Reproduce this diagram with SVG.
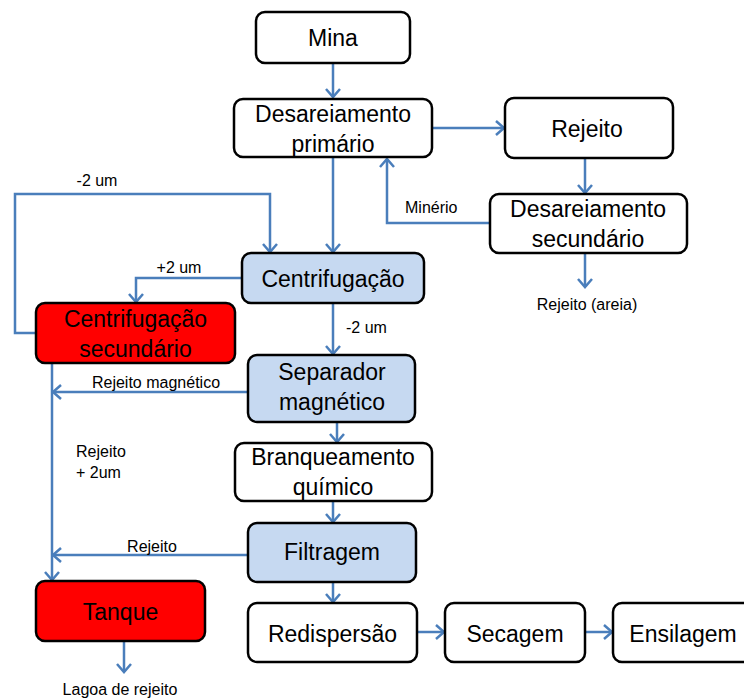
<svg xmlns="http://www.w3.org/2000/svg" width="744" height="700" viewBox="0 0 744 700">
<defs>
<style>
.box{fill:#fff;stroke:#000;stroke-width:2.5}
.blue{fill:#c6d9f1}
.red{fill:#ff0000}
.t{font-family:"Liberation Sans",Arial,sans-serif;font-size:23px;fill:#000;text-anchor:middle}
.l{font-family:"Liberation Sans",Arial,sans-serif;font-size:16px;fill:#000}
.c{fill:none;stroke:#4a7ebb;stroke-width:2.5}
</style>
<marker id="ah" markerUnits="userSpaceOnUse" markerWidth="20" markerHeight="20" viewBox="-10 -10 20 20" refX="0" refY="0" orient="auto">
<polyline points="-8,-7 0,0 -8,7" fill="none" stroke="#4a7ebb" stroke-width="2.5"/>
</marker>
</defs>
<rect width="744" height="700" fill="#fff"/>
<g id="connectors">
<path class="c" d="M333,63 V97" marker-end="url(#ah)"/>
<path class="c" d="M432,128 H504" marker-end="url(#ah)"/>
<path class="c" d="M585,158 V193" marker-end="url(#ah)"/>
<path class="c" d="M490,223 H387 V159" marker-end="url(#ah)"/>
<path class="c" d="M585,253 V287" marker-end="url(#ah)"/>
<path class="c" d="M333,157 V252" marker-end="url(#ah)"/>
<path class="c" d="M36,333 H15 V194 H270 V252" marker-end="url(#ah)"/>
<path class="c" d="M242,278 H136 V302" marker-end="url(#ah)"/>
<path class="c" d="M333,303 V354" marker-end="url(#ah)"/>
<path class="c" d="M52,363 V580" marker-end="url(#ah)"/>
<path class="c" d="M248,392 H53" marker-end="url(#ah)"/>
<path class="c" d="M248,555 H53" marker-end="url(#ah)"/>
<path class="c" d="M337,422 V442" marker-end="url(#ah)"/>
<path class="c" d="M333,501 V522" marker-end="url(#ah)"/>
<path class="c" d="M333,582 V602" marker-end="url(#ah)"/>
<path class="c" d="M417,632 H444" marker-end="url(#ah)"/>
<path class="c" d="M585,632 H612" marker-end="url(#ah)"/>
<path class="c" d="M124,641 V672" marker-end="url(#ah)"/>
<text class="l" x="97" y="186" text-anchor="middle">-2 um</text>
<text class="l" x="179" y="273" text-anchor="middle">+2 um</text>
<text class="l" x="346" y="333">-2 um</text>
<text class="l" x="405" y="213">Minério</text>
<text class="l" x="587" y="310" text-anchor="middle">Rejeito (areia)</text>
<text class="l" x="156" y="388" text-anchor="middle">Rejeito magnético</text>
<text class="l" x="76" y="457">Rejeito</text>
<text class="l" x="76" y="478">+ 2um</text>
<text class="l" x="152" y="552" text-anchor="middle">Rejeito</text>
<text class="l" x="120" y="695" text-anchor="middle">Lagoa de rejeito</text>
</g>
<g id="mina"><rect class="box" x="256" y="12" width="154" height="51" rx="9"/><text class="t" x="333" y="46">Mina</text></g>
<g id="desareiamento-primario"><rect class="box" x="234" y="99" width="198" height="58" rx="9"/><text class="t" x="333" y="122">Desareiamento</text><text class="t" x="333" y="152">primário</text></g>
<g id="rejeito"><rect class="box" x="505" y="98" width="168" height="60" rx="9"/><text class="t" x="587" y="137">Rejeito</text></g>
<g id="desareiamento-secundario"><rect class="box" x="490" y="194" width="197" height="59" rx="9"/><text class="t" x="588" y="217">Desareiamento</text><text class="t" x="588" y="247">secundário</text></g>
<g id="centrifugacao"><rect class="box blue" x="242" y="253" width="182" height="50" rx="9"/><text class="t" x="333" y="287">Centrifugação</text></g>
<g id="centrifugacao-secundario"><rect class="box red" x="36" y="303" width="199" height="60" rx="9"/><text class="t" x="135.5" y="327">Centrifugação</text><text class="t" x="135.5" y="357">secundário</text></g>
<g id="separador-magnetico"><rect class="box blue" x="248" y="355" width="167" height="67" rx="9"/><text class="t" x="332" y="380">Separador</text><text class="t" x="332" y="410">magnético</text></g>
<g id="branqueamento-quimico"><rect class="box" x="235" y="443" width="197" height="58" rx="9"/><text class="t" x="333" y="465">Branqueamento</text><text class="t" x="333" y="495">químico</text></g>
<g id="filtragem"><rect class="box blue" x="248" y="523" width="168" height="59" rx="9"/><text class="t" x="332" y="560">Filtragem</text></g>
<g id="tanque"><rect class="box red" x="36" y="581" width="169" height="60" rx="9"/><text class="t" x="120.5" y="620">Tanque</text></g>
<g id="redispersao"><rect class="box" x="248" y="603" width="169" height="59" rx="9"/><text class="t" x="332.5" y="642">Redispersão</text></g>
<g id="secagem"><rect class="box" x="445" y="603" width="140" height="59" rx="9"/><text class="t" x="515" y="642">Secagem</text></g>
<g id="ensilagem"><rect class="box" x="613" y="603" width="142" height="59" rx="9"/><text class="t" x="683" y="642">Ensilagem</text></g>
</svg>
